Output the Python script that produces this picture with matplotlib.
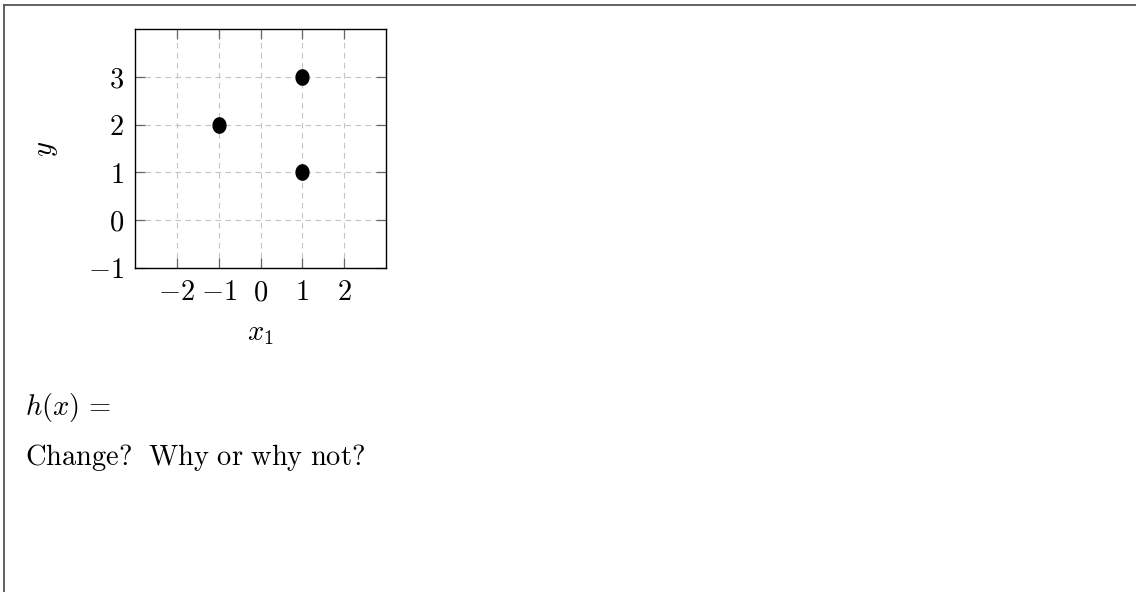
import matplotlib
matplotlib.use('Agg')
import matplotlib.pyplot as plt
from matplotlib.lines import Line2D
from matplotlib.path import Path
import numpy as np

# data
x_pts = [-1, 1, 1]
y_pts = [2, 3, 1]
x_ticks = [-2, -1, 0, 1, 2]
y_ticks = [-1, 0, 1, 2, 3]

plt.rcParams['mathtext.fontset'] = 'cm'
plt.rcParams['font.family'] = 'serif'
plt.rcParams['font.serif'] = ['DejaVu Serif']

W, H = 1136, 592
fs = 20.5
fig = plt.figure(figsize=(W / 100, H / 100), dpi=100)

# page frame (top and left edges)
fig.add_artist(Line2D([4 / W, 1], [1 - 5 / H, 1 - 5 / H], color='#555555', lw=1.3))
fig.add_artist(Line2D([4 / W, 4 / W], [0, 1 - 5 / H], color='#555555', lw=1.3))

# axes box
ax = fig.add_axes([135 / W, 1 - 268 / H, 251 / W, 239 / H])
ax.set_xlim(-3, 3)
ax.set_ylim(-1, 4)

# ellipse-ish marker
t = np.linspace(0, 2 * np.pi, 60)
ell = Path(np.column_stack([0.42 * np.cos(t), 0.5 * np.sin(t)]), closed=True)
ax.plot(x_pts, y_pts, linestyle='none', marker=ell, markersize=11,
        color='black', zorder=3)

ax.set_xticks(x_ticks)
ax.set_yticks(y_ticks)
ax.set_xticklabels(['$' + ('-' if v < 0 else '') + str(abs(v)) + '$' for v in x_ticks])
ax.set_yticklabels(['$' + ('-' if v < 0 else '') + str(abs(v)) + '$' for v in y_ticks])
ax.tick_params(direction='in', length=7, width=0.9, color='#666666',
               top=True, right=True, labelsize=fs, pad=8)
ax.grid(True, color='#c4c4c4', linestyle=(0, (5, 4)), linewidth=0.8)
ax.set_axisbelow(True)
for s in ax.spines.values():
    s.set_linewidth(1.0)

ax.set_xlabel('$x_1$', fontsize=fs, labelpad=10)
ax.set_ylabel('$y$', fontsize=fs, labelpad=20)

fig.text(25 / W, 1 - 407 / H, r'$h(x)\,=$', fontsize=fs, va='center', ha='left')
fig.text(25 / W, 1 - 465 / H, r'$\mathrm{Change?\ \ Why\ or\ why\ not?}$',
         fontsize=fs, va='baseline', ha='left')

fig.savefig('out.png', dpi=100)
